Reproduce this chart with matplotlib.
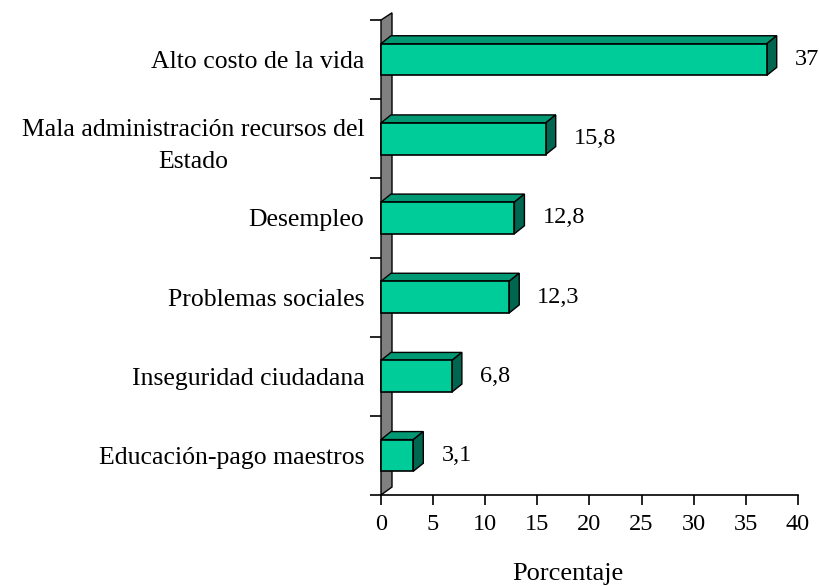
import matplotlib
matplotlib.use("Agg")
import matplotlib.pyplot as plt
from matplotlib.patches import Polygon

# data, bottom to top
categories = ["Educación-pago maestros", "Inseguridad ciudadana",
              "Problemas sociales", "Desempleo",
              "Mala administración recursos del\nEstado",
              "Alto costo de la vida"]
values = [3.1, 6.8, 12.3, 12.8, 15.8, 37]
value_labels = ["3,1", "6,8", "12,3", "12,8", "15,8", "37"]
x_ticks = [0, 5, 10, 15, 20, 25, 30, 35, 40]

plt.rcParams["font.family"] = ["Liberation Serif", "DejaVu Serif"]

fig = plt.figure(figsize=(8.2, 5.86), dpi=100)
ax = fig.add_axes([381 / 820, 1 - 495 / 586, 417 / 820, 475 / 586])
ax.set_xlim(0, 40)
ax.set_ylim(0, 6)

# depth of the 3D effect, in pixels -> data units
px_x = 417 / 40
px_y = 475 / 6
dx = 10 / px_x
dy = 8 / px_y

front = "#00CC99"
top = "#009973"
side = "#006650"

# gray back wall
ax.add_patch(Polygon([(0, 0), (dx * 1.1, dy), (dx * 1.1, 6 + dy * 0.9), (0, 6)],
                     closed=True, facecolor="#808080", edgecolor="black",
                     lw=1, clip_on=False, zorder=1))

h = 0.40
for i, v in enumerate(values):
    y0 = i + 0.5 - h / 2
    y1 = i + 0.5 + h / 2
    ax.add_patch(Polygon([(0, y1), (dx, y1 + dy), (v + dx, y1 + dy), (v, y1)],
                         facecolor=top, edgecolor="black", lw=1,
                         clip_on=False, zorder=3))
    ax.add_patch(Polygon([(v, y0), (v + dx, y0 + dy), (v + dx, y1 + dy), (v, y1)],
                         facecolor=side, edgecolor="black", lw=1,
                         clip_on=False, zorder=3))
    ax.add_patch(Polygon([(0, y0), (v, y0), (v, y1), (0, y1)],
                         facecolor=front, edgecolor="black", lw=1.2,
                         clip_on=False, zorder=4))
    ax.text(v + dx + 18 / px_x, i + 0.5, value_labels[i], fontsize=17.5,
            va="center", ha="left", clip_on=False)

ax.set_xticks(x_ticks)
ax.set_xticklabels([str(t) for t in x_ticks], fontsize=17.5)
ax.tick_params(axis="x", direction="out", length=7, width=1.2, pad=7)

ax.set_yticks(range(7))
ax.set_yticklabels([])
ax.tick_params(axis="y", which="major", direction="out", length=8, width=1.2)
ax.set_yticks([i + 0.5 for i in range(6)], minor=True)
ax.set_yticklabels(categories, minor=True, fontsize=18.5)
ax.tick_params(axis="y", which="minor", length=0, pad=12)
for lbl in ax.get_yticklabels(minor=True):
    lbl.set_multialignment("center")
    lbl.set_linespacing(1.55)

for s in ["top", "right", "left"]:
    ax.spines[s].set_visible(False)
ax.spines["bottom"].set_linewidth(1.2)

fig.text(568 / 820, 1 - 574 / 586, "Porcentaje", fontsize=19,
         ha="center", va="center")

fig.savefig("out.png", dpi=100)
